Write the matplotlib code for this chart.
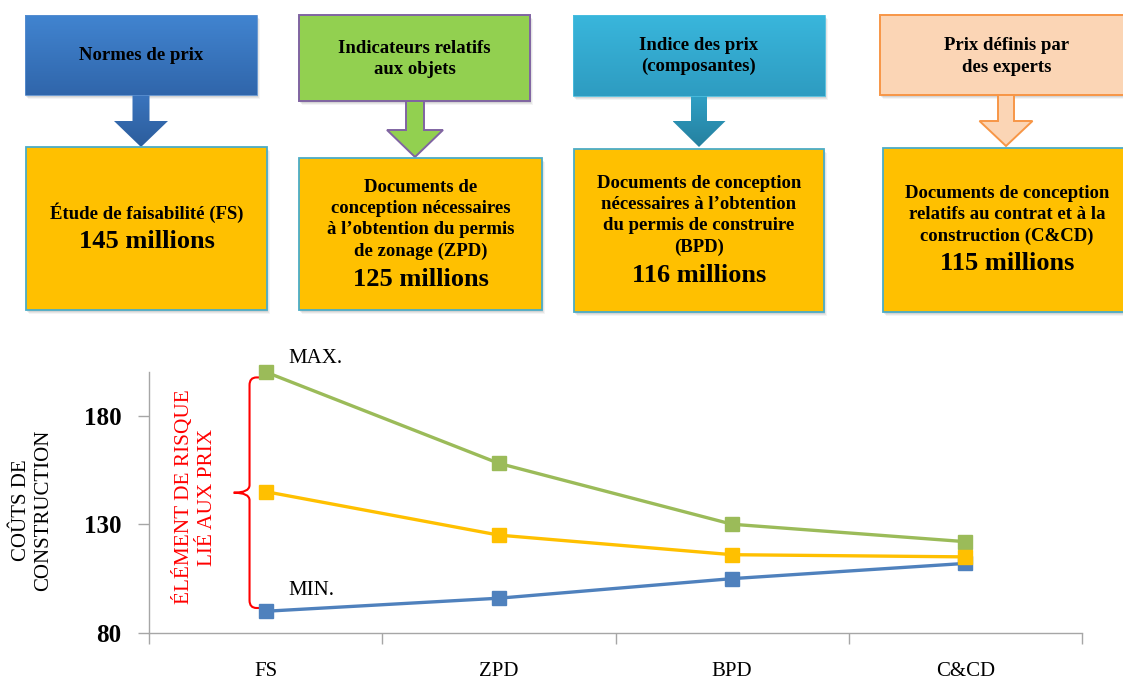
import matplotlib
matplotlib.use('Agg')
import matplotlib.pyplot as plt
from matplotlib.patches import Rectangle, Polygon, PathPatch
from matplotlib.path import Path
import numpy as np
from matplotlib.colors import to_rgb

plt.rcParams['font.family'] = ['Liberation Serif', 'DejaVu Serif']

# ---------------- data ----------------
categories = ['FS', 'ZPD', 'BPD', 'C&CD']
max_costs = [200, 158, 130, 122]
estimate_costs = [145, 125, 116, 115]
min_costs = [90, 96, 105, 112]
y_ticks = [80, 130, 180]
y_limits = (80, 200)

header_texts = ['Normes de prix',
                'Indicateurs relatifs\naux objets',
                'Indice des prix\n(composantes)',
                'Prix définis par\ndes experts']
stage_texts = ['Étude de faisabilité (FS)',
               'Documents de\nconception nécessaires\nà l’obtention du permis\nde zonage (ZPD)',
               'Documents de conception\nnécessaires à l’obtention\ndu permis de construire\n(BPD)',
               'Documents de conception\nrelatifs au contrat et à la\nconstruction (C&CD)']

# ---------------- figure ----------------
W, H = 1123, 682
fig = plt.figure(figsize=(W / 100, H / 100), dpi=100)
ov = fig.add_axes([0, 0, 1, 1])
ov.set_xlim(0, W)
ov.set_ylim(H, 0)
ov.axis('off')

ORANGE = '#ffc000'
BOX_EDGE = '#4bacc6'


def gradient_fill(patch, c_top, c_bot, y0, y1, x0, x1):
    ov.add_patch(patch)
    t = np.linspace(0, 1, 64)[:, None, None]
    a = np.array(to_rgb(c_top))[None, None, :]
    b = np.array(to_rgb(c_bot))[None, None, :]
    img = a * (1 - t) + b * t
    im = ov.imshow(img, extent=(x0, x1, y1, y0), origin='upper', aspect='auto', zorder=patch.get_zorder())
    im.set_clip_path(patch)


def shadow_rect(x0, y0, x1, y1):
    for k, al in [(4, 0.08), (3, 0.12), (2, 0.16)]:
        ov.add_patch(Rectangle((x0 + k - 1, y0 + k), x1 - x0, y1 - y0,
                               facecolor='#7f7f7f', edgecolor='none', alpha=al, zorder=1))


def arrow_poly(cx, ys, yh, tip, sw, hw):
    return [(cx - sw, ys), (cx + sw, ys), (cx + sw, yh), (cx + hw, yh),
            (cx, tip), (cx - hw, yh), (cx - sw, yh)]


# layout of the four columns (pixel positions)
cols = [
    dict(hdr=(25, 15, 257, 95), arr=(141, 95, 121, 147, 8.5, 27), box=(26, 147, 267, 310),
         hy=56, sy=213, ay=241, fill=('#4184d0', '#3066ab'), afill=('#3a74bd', '#2c5d9c'),
         hedge=None, grad=True),
    dict(hdr=(299, 15, 530, 101), arr=(415, 101, 130, 157, 9, 28), box=(299, 158, 542, 310),
         hy=59, sy=219.5, ay=279, fill=('#92d050', '#92d050'), afill=('#92d050', '#92d050'),
         hedge='#8064a2', grad=False),
    dict(hdr=(573, 15, 825, 96), arr=(699, 96, 121, 147, 8, 26.5), box=(574, 149, 824, 312),
         hy=56, sy=215.5, ay=275, fill=('#39b6dc', '#2e9cc1'), afill=('#2f9fc4', '#25809f'),
         hedge=None, grad=True),
    dict(hdr=(880, 15, 1135, 95), arr=(1006, 95, 121, 146, 8, 26.5), box=(883, 148, 1135, 312),
         hy=56.5, sy=215, ay=264, fill=('#fbd5b5', '#fbd5b5'), afill=('#fbd5b5', '#fbd5b5'),
         hedge='#f79646', grad=False),
]

for i, c in enumerate(cols):
    x0, y0, x1, y1 = c['hdr']
    shadow_rect(x0, y0, x1, y1)
    # header box
    if c['grad']:
        p = Rectangle((x0, y0), x1 - x0, y1 - y0, facecolor='none', edgecolor='none', zorder=2)
        gradient_fill(p, c['fill'][0], c['fill'][1], y0, y1, x0, x1)
        ov.add_patch(Rectangle((x0, y0), x1 - x0, y1 - y0, facecolor='none',
                               edgecolor='#5a8fd0' if i == 0 else '#4cbfe0', lw=0.6, zorder=3))
    else:
        ov.add_patch(Rectangle((x0, y0), x1 - x0, y1 - y0, facecolor=c['fill'][0],
                               edgecolor=c['hedge'], lw=1.4, zorder=2))
    ov.text((x0 + x1) / 2 if i < 3 else 1007, c['hy'], header_texts[i],
            ha='center', va='center', fontsize=13.5, fontweight='bold', linespacing=1.33, zorder=5)
    # arrow
    cx, ys, yh, tip, sw, hw = c['arr']
    pts = arrow_poly(cx, ys, yh, tip, sw, hw)
    if c['grad']:
        p = Polygon(pts, closed=True, facecolor='none', edgecolor='none', zorder=2)
        gradient_fill(p, c['afill'][0], c['afill'][1], ys, tip, cx - hw, cx + hw)
    else:
        ov.add_patch(Polygon(pts, closed=True, facecolor=c['afill'][0], edgecolor=c['hedge'],
                             lw=1.4, zorder=2))
    # stage box
    bx0, by0, bx1, by1 = c['box']
    shadow_rect(bx0, by0, bx1, by1)
    ov.add_patch(Rectangle((bx0, by0), bx1 - bx0, by1 - by0, facecolor=ORANGE,
                           edgecolor=BOX_EDGE, lw=1.3, zorder=2))
    tx = (bx0 + bx1) / 2 if i < 3 else 1007
    ov.text(tx, c['sy'], stage_texts[i], ha='center', va='center', fontsize=13.5,
            fontweight='bold', linespacing=1.33, zorder=5)
    ov.text(tx, c['ay'], f'{estimate_costs[i]} millions', ha='center', va='center',
            fontsize=19, fontweight='bold', zorder=5)

# ---------------- line chart ----------------
ax_left, ax_right, ax_bottom, ax_top = 149, 1082, 633, 372
ax = fig.add_axes([ax_left / W, (H - ax_bottom) / H, (ax_right - ax_left) / W,
                   (ax_bottom - ax_top) / H])
ax.patch.set_alpha(0)
x = np.arange(len(categories))
ax.set_xlim(-0.5, len(categories) - 0.5)
ax.set_ylim(*y_limits)

ax.plot(x, min_costs, color='#4f81bd', lw=2.4, marker='s', ms=10.5, clip_on=False, zorder=3)
ax.plot(x, max_costs, color='#9bbb59', lw=2.4, marker='s', ms=10.5, clip_on=False, zorder=3)
ax.plot(x, estimate_costs, color='#ffc000', lw=2.4, marker='s', ms=10.5, clip_on=False, zorder=4)

for s in ['top', 'right']:
    ax.spines[s].set_visible(False)
for s in ['left', 'bottom']:
    ax.spines[s].set_color('#a6a6a6')
    ax.spines[s].set_linewidth(1.0)

ax.set_xticks(x)
ax.set_xticklabels(categories, fontsize=15)
ax.set_xticks(np.arange(-0.5, len(categories), 1.0), minor=True)
ax.tick_params(axis='x', which='major', length=0, pad=21)
ax.tick_params(axis='x', which='minor', length=8, color='#a6a6a6', width=1.0)
ax.set_yticks(y_ticks)
ax.set_yticklabels([str(v) for v in y_ticks], fontsize=18, fontweight='bold')
ax.tick_params(axis='y', length=8, color='#a6a6a6', width=1.0, pad=12)

ax.annotate('MAX.', (x[0], max_costs[0]), xytext=(16.5, 9.5), textcoords='offset points',
            ha='left', va='center', fontsize=15)
ax.annotate('MIN.', (x[0], min_costs[0]), xytext=(16.5, 15), textcoords='offset points',
            ha='left', va='center', fontsize=15)

# brace spanning min -> max at first stage
xl, xe, xt = -0.069, -0.01, -0.137
yt, yb = max_costs[0] - 2.5, min_costs[0] + 1.5
ym = (yt + yb) / 2
rx, ry = 0.03, 3.5
verts = [(xe, yt), (xl + rx, yt), (xl, yt), (xl, yt - ry), (xl, ym + ry),
         (xl, ym), (xt, ym), (xl, ym), (xl, ym - ry), (xl, yb + ry),
         (xl, yb), (xl + rx, yb), (xe, yb)]
codes = [Path.MOVETO, Path.LINETO, Path.CURVE3, Path.CURVE3, Path.LINETO,
         Path.CURVE3, Path.CURVE3, Path.CURVE3, Path.CURVE3, Path.LINETO,
         Path.CURVE3, Path.CURVE3, Path.LINETO]
ax.add_patch(PathPatch(Path(verts, codes), facecolor='none', edgecolor='#ff0000', lw=1.5,
                       clip_on=False, zorder=2))

ov.text(195, 497, 'ÉLÉMENT DE RISQUE\nLIÉ AUX PRIX', rotation=90, ha='center', va='center',
        fontsize=15.3, color='#ff0000', linespacing=1.22, multialignment='center')
ov.text(33, 510, 'COÛTS DE\nCONSTRUCTION', rotation=90, ha='center', va='center',
        fontsize=15, linespacing=1.22, multialignment='center')

ov.set_xlim(0, W)
ov.set_ylim(H, 0)
fig.savefig('out.png', dpi=100)
